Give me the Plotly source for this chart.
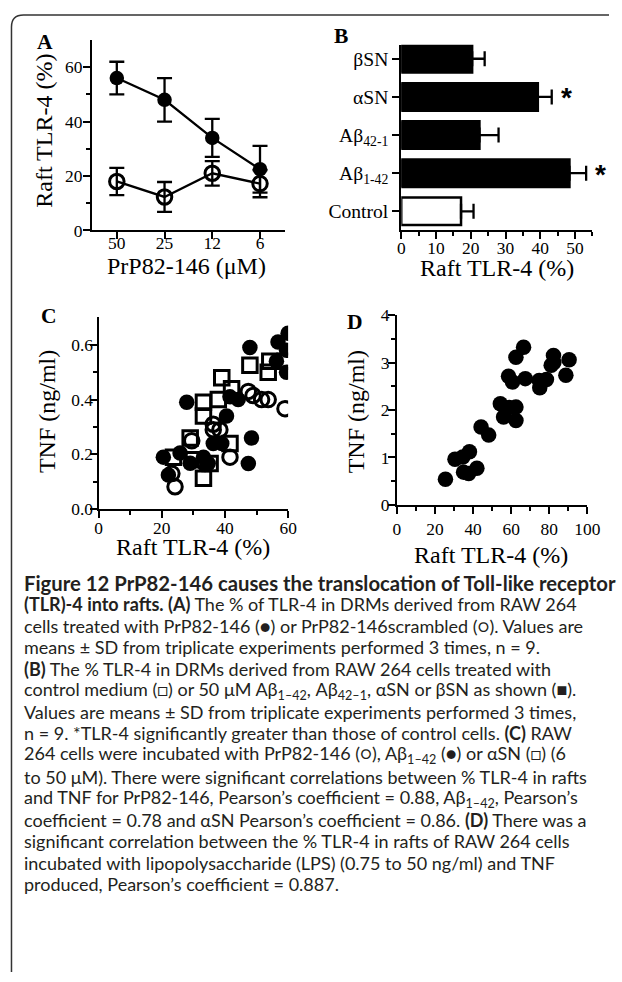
import plotly.graph_objects as go

W, H = 622, 982
# The captured picture comes out slightly scaled/offset relative to the page;
# target positions (in picture pixels) are mapped back to page pixels here.
SX, SY = 0.975, 0.984
OX, OY = 3.5, 7.9

# ---------------- data ----------------
# Panel A
A_conc = ["50", "25", "12", "6"]
A_prp = [56, 48, 34, 22.5]
A_prp_sd = [6, 8, 7, 8.6]
A_scr = [18, 12.3, 21, 17.2]
A_scr_sd = [5, 5.5, 4.5, 5]

# Panel B
B_cats = ["Control", "Aβ<sub>1-42</sub>", "Aβ<sub>42-1</sub>", "αSN", "βSN"]
B_vals = [17.2, 48.4, 22.5, 39.3, 20.4]
B_sd = [3.6, 4.8, 5.5, 4.0, 3.6]
B_sig = [False, True, False, True, False]

# Panel C
C_prp_x = [59, 53.7, 51.6, 48.9, 47.4, 36.3, 36.3, 29.5, 41.6, 24.2, 33.7, 23.2, 38.4]
C_prp_y = [0.367, 0.40, 0.40, 0.415, 0.43, 0.31, 0.29, 0.25, 0.19, 0.082, 0.167, 0.13, 0.29]
C_ab_x = [60, 56.8, 59.5, 47.9, 59.5, 27.9, 44.2, 40.5, 48.4, 47.4, 20.5, 22.1, 29, 33.2,
          36.3, 34.7, 39, 25.8, 56.3, 41.6]
C_ab_y = [0.642, 0.61, 0.58, 0.59, 0.50, 0.39, 0.40, 0.34, 0.26, 0.167, 0.19, 0.125, 0.168,
          0.19, 0.24, 0.167, 0.24, 0.205, 0.54, 0.41]
C_asn_x = [39, 42.1, 47.9, 53.7, 54.2, 59, 33.2, 37.9, 33.2, 29, 41.6, 33.2, 23.7, 35.3, 30]
C_asn_y = [0.48, 0.44, 0.525, 0.50, 0.54, 0.54, 0.39, 0.40, 0.34, 0.26, 0.24, 0.113, 0.19,
           0.167, 0.18]

# Panel D
D_x = [25.5, 30.5, 34.6, 38.1, 35.0, 37.7, 42.0, 44.2, 48.2, 54.3, 56.0, 59.0, 62.5, 62.5,
       58.6, 60.7, 62.5, 66.5, 67.4, 74.7, 75.0, 78.5, 81.0, 82.2, 88.7, 90.4, 82.4]
D_y = [0.54, 0.96, 1.01, 1.12, 0.69, 0.66, 0.77, 1.64, 1.47, 2.13, 1.85, 2.05, 2.06, 1.78,
       2.71, 2.59, 3.11, 3.32, 2.66, 2.62, 2.47, 2.64, 2.94, 3.15, 2.73, 3.06, 3.0]

caption_lines = [
    "<b>Figure 12 PrP82-146 causes the translocation of Toll-like receptor</b>",
    "<b>(TLR)-4 into rafts. (A)</b> The % of TLR-4 in DRMs derived from RAW 264",
    "cells treated with PrP82-146 (●) or PrP82-146scrambled (○). Values are",
    "means ± SD from triplicate experiments performed 3 times, n = 9.",
    "<b>(B)</b> The % TLR-4 in DRMs derived from RAW 264 cells treated with",
    "control medium (□) or 50 μM Aβ<sub>1–42</sub>, Aβ<sub>42–1</sub>, αSN or βSN as shown (■).",
    "Values are means ± SD from triplicate experiments performed 3 times,",
    "n = 9. *TLR-4 significantly greater than those of control cells. <b>(C)</b> RAW",
    "264 cells were incubated with PrP82-146 (○), Aβ<sub>1–42</sub> (●) or αSN (□) (6",
    "to 50 μM). There were significant correlations between % TLR-4 in rafts",
    "and TNF for PrP82-146, Pearson’s coefficient = 0.88, Aβ<sub>1–42</sub>, Pearson’s",
    "coefficient = 0.78 and αSN Pearson’s coefficient = 0.86. <b>(D)</b> There was a",
    "significant correlation between the % TLR-4 in rafts of RAW 264 cells",
    "incubated with lipopolysaccharide (LPS) (0.75 to 50 ng/ml) and TNF",
    "produced, Pearson’s coefficient = 0.887.",
]

# ---------------- helpers (target pixels -> paper fraction) ----------------
def px_x(x):
    return ((x - OX) / SX) / W

def px_y(y):
    return 1 - ((y - OY) / SY) / H

SERIF = "Liberation Serif"
TICKF = dict(family=SERIF, size=17.4, color="black")
TITLEF = dict(family=SERIF, size=24, color="black")
MINOR = dict(ticks="outside", ticklen=4, tickwidth=2, tickcolor="black")

def axis_common(**kw):
    d = dict(showline=True, linewidth=2, linecolor="black", ticks="outside",
             ticklen=7, tickwidth=2, tickcolor="black", showgrid=False,
             zeroline=False, tickfont=TICKF, fixedrange=True)
    d.update(kw)
    return d

fig = go.Figure()

# ---------------- Panel A ----------------
A_pos = list(range(len(A_conc)))
fig.add_trace(go.Scatter(
    x=A_pos, y=A_prp, mode="lines+markers", xaxis="x", yaxis="y",
    line=dict(color="black", width=2.3),
    marker=dict(symbol="circle", size=14.5, color="black"),
    error_y=dict(type="data", array=A_prp_sd, color="black", thickness=2.3, width=7.5),
    showlegend=False))
fig.add_trace(go.Scatter(
    x=A_pos, y=A_scr, mode="lines+markers", xaxis="x", yaxis="y",
    line=dict(color="black", width=2.3),
    marker=dict(symbol="circle-open", size=14.5, color="black", line=dict(width=3)),
    error_y=dict(type="data", array=A_scr_sd, color="black", thickness=2.3, width=7.5),
    showlegend=False))

# ---------------- Panel B ----------------
B_pos = list(range(len(B_cats)))
fig.add_trace(go.Bar(
    x=B_vals, y=B_pos, orientation="h", xaxis="x2", yaxis="y2", width=0.72,
    marker=dict(color=["white" if i == 0 else "black" for i in B_pos],
                line=dict(color="black", width=2.5)),
    error_x=dict(type="data", array=B_sd, symmetric=False, arrayminus=[0] * len(B_sd),
                 color="black", thickness=2.3, width=7.5),
    showlegend=False))

# ---------------- Panel C ----------------
fig.add_trace(go.Scatter(
    x=C_asn_x, y=C_asn_y, mode="markers", xaxis="x3", yaxis="y3",
    marker=dict(symbol="square-open", size=14.5, color="black", line=dict(width=3)),
    showlegend=False))
fig.add_trace(go.Scatter(
    x=C_ab_x, y=C_ab_y, mode="markers", xaxis="x3", yaxis="y3",
    marker=dict(symbol="circle", size=15.5, color="black"),
    showlegend=False))
fig.add_trace(go.Scatter(
    x=C_prp_x, y=C_prp_y, mode="markers", xaxis="x3", yaxis="y3",
    marker=dict(symbol="circle-open", size=14.5, color="black", line=dict(width=3)),
    showlegend=False))

# ---------------- Panel D ----------------
fig.add_trace(go.Scatter(
    x=D_x, y=D_y, mode="markers", xaxis="x4", yaxis="y4",
    marker=dict(symbol="circle", size=15.5, color="black"),
    showlegend=False))

# ---------------- axes ----------------
layout = dict(
    width=W, height=H, margin=dict(l=0, r=0, t=0, b=0),
    paper_bgcolor="white", plot_bgcolor="white", showlegend=False,
    xaxis=axis_common(domain=[px_x(91.7), px_x(285)], anchor="y",
                      range=[-0.52, 3.52], tickvals=A_pos, ticktext=A_conc,
                      ticklabelstandoff=-11),
    yaxis=axis_common(domain=[px_y(229.3), px_y(38)], anchor="x",
                      range=[0, 70], tickvals=[0, 20, 40, 60],
                      minor=dict(MINOR, tickvals=[10, 30, 50]),
                      ticklabelstandoff=-3),
    xaxis2=axis_common(domain=[px_x(401.7), px_x(593.3)], anchor="y2",
                       range=[0, 55], tickvals=[0, 10, 20, 30, 40, 50],
                       minor=dict(MINOR, tickvals=[5, 15, 25, 35, 45, 55]),
                       ticklabelstandoff=-6),
    yaxis2=axis_common(domain=[px_y(229.3), px_y(42.7)], anchor="x2",
                       range=[-0.5, 4.37], tickvals=B_pos, ticktext=B_cats,
                       tickfont=dict(family=SERIF, size=19.6, color="black")),
    xaxis3=axis_common(domain=[px_x(98.3), px_x(288.3)], anchor="y3",
                       range=[0, 60], tickvals=[0, 20, 40, 60],
                       minor=dict(MINOR, tickvals=[10, 30, 50]),
                       ticklabelstandoff=-5),
    yaxis3=axis_common(domain=[px_y(509.3), px_y(316.7)], anchor="x3",
                       range=[0, 0.7], tickvals=[0, 0.2, 0.4, 0.6], tickformat=".1f",
                       minor=dict(MINOR, tickvals=[0.1, 0.3, 0.5]),
                       ticklabelstandoff=-7),
    xaxis4=axis_common(domain=[px_x(397.3), px_x(588.3)], anchor="y4",
                       range=[0, 100], tickvals=[0, 20, 40, 60, 80, 100],
                       minor=dict(MINOR, tickvals=[10, 30, 50, 70, 90]),
                       ticklabelstandoff=0),
    yaxis4=axis_common(domain=[px_y(505), px_y(314.3)], anchor="x4",
                       range=[0, 4], tickvals=[0, 1, 2, 3, 4],
                       minor=dict(MINOR, tickvals=[0.5, 1.5, 2.5, 3.5]),
                       ticklabelstandoff=-5),
)
fig.update_layout(**layout)

annotations = []
# axis titles
axis_titles = [
    ("PrP82-146 (μM)", 186.5, 265, 0),
    ("Raft TLR-4 (%)", 43.3, 129.5, -90),
    ("Raft TLR-4 (%)", 497.3, 266.7, 0),
    ("Raft TLR-4 (%)", 192.5, 547.5, 0),
    ("TNF (ng/ml)", 46.7, 411.7, -90),
    ("Raft TLR-4 (%)", 491.7, 555, 0),
    ("TNF (ng/ml)", 356.7, 411.7, -90),
]
for txt, tx, ty, ang in axis_titles:
    annotations.append(dict(text=txt, x=px_x(tx), y=px_y(ty), xref="paper", yref="paper",
                            xanchor="center", yanchor="middle", textangle=ang,
                            showarrow=False, font=TITLEF))
# panel letters
for letter, (lx, ly) in {"A": (45, 40), "B": (341, 34), "C": (48.3, 315), "D": (355.8, 320.8)}.items():
    annotations.append(dict(text=f"<b>{letter}</b>", x=px_x(lx), y=px_y(ly),
                            xref="paper", yref="paper", xanchor="center", yanchor="middle",
                            showarrow=False, font=dict(family=SERIF, size=21.5, color="black")))
# significance asterisks (panel B)
for i, (v, s, sig) in enumerate(zip(B_vals, B_sd, B_sig)):
    if sig:
        annotations.append(dict(text="<b>*</b>", x=v + s, y=i, xref="x2", yref="y2",
                                xanchor="left", yanchor="middle", xshift=7, yshift=-1,
                                showarrow=False,
                                font=dict(family="Liberation Sans", size=28, color="black")))
# caption
for k, line in enumerate(caption_lines):
    ann = dict(text=line, x=px_x(22), y=px_y(583 + 21.65 * k),
               xref="paper", yref="paper", xanchor="left", yanchor="middle",
               align="left", valign="middle", showarrow=False,
               font=dict(family="Lato", size=20.3 if k == 0 else 18.0, color="#231f20"))
    if "<sub>" in line:
        ann["height"] = 21
    annotations.append(ann)
fig.update_layout(annotations=annotations)

# frame (left + top border with rounded corner)
x0, y0, r = 11, 13, 12
path = (f"M {px_x(x0)},0 L {px_x(x0)},{px_y(y0 + r)} "
        f"Q {px_x(x0)},{px_y(y0)} {px_x(x0 + r)},{px_y(y0)} L 1,{px_y(y0)}")
fig.add_shape(type="path", path=path, xref="paper", yref="paper",
              line=dict(color="#333333", width=1.5))

fig.write_html("out.html", config={"displayModeBar": False},
               post_script="document.body.style.margin='0px';"
                           "document.documentElement.style.overflow='hidden';")
